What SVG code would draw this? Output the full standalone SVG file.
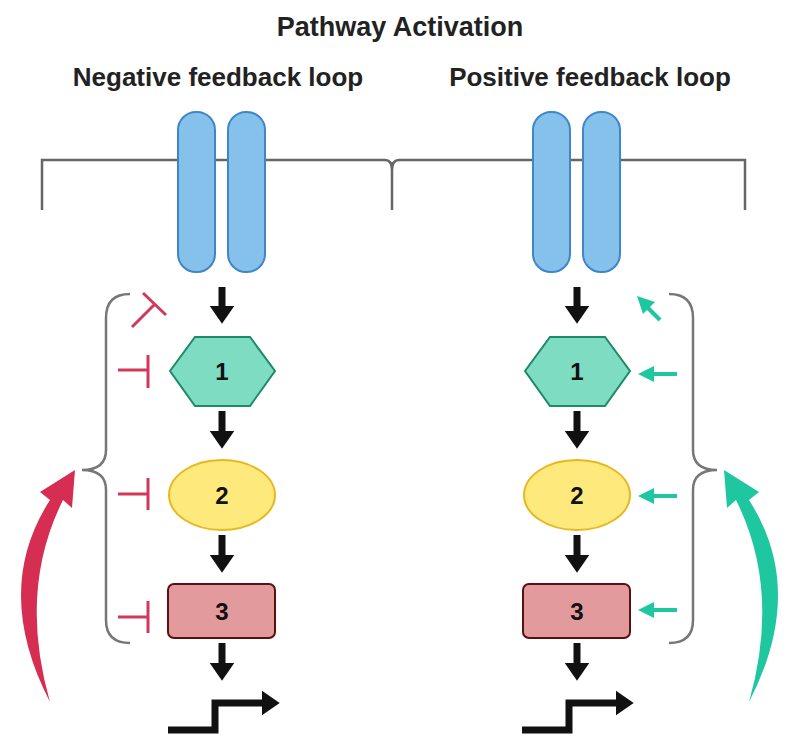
<svg xmlns="http://www.w3.org/2000/svg" width="800" height="749" viewBox="0 0 800 749">
<style>
.t{font-family:"Liberation Sans",Arial,sans-serif;font-weight:bold;fill:#222;text-anchor:middle}
.rec{fill:#86c1ec;stroke:#3f86c8;stroke-width:2}
.mem{fill:none;stroke:#666;stroke-width:2.5}
.blk{stroke:#111;stroke-width:7;fill:none}
.inh{stroke:#d0395a;stroke-width:3;fill:none}
.act{stroke:#1fc7a0;stroke-width:4;fill:none}
.gh{fill:#1fc7a0}
.br{fill:none;stroke:#777;stroke-width:2.5}
.n{font-family:"Liberation Sans",Arial,sans-serif;font-weight:bold;font-size:24px;fill:#111;text-anchor:middle}
</style>
<defs>
<marker id="ab" markerWidth="4" markerHeight="4" refX="1.5" refY="2" orient="auto" markerUnits="strokeWidth"><path d="M0,0.2 L2.6,2 L0,3.8Z" fill="#111"/></marker>
</defs>
<text class="t" x="400" y="36" font-size="27">Pathway Activation</text>
<text class="t" x="218" y="86" font-size="26">Negative feedback loop</text>
<text class="t" x="590" y="86" font-size="26">Positive feedback loop</text>
<g id="membrane">
<path class="mem" d="M42,210 V160 H385 Q392,160 392,170 Q392,160 399,160 H745 V210"/>
<path class="mem" d="M392,170 V210"/>
</g>
<g id="receptor-left"><rect class="rec" x="178" y="112" width="37" height="160" rx="18"/><rect class="rec" x="228" y="112" width="37" height="160" rx="18"/></g>
<g id="receptor-right"><rect class="rec" x="533" y="112" width="37" height="160" rx="18"/><rect class="rec" x="583" y="112" width="37" height="160" rx="18"/></g>
<g id="node1-left"><polygon points="170,371 195,337 250,337 275,371 250,406 195,406" fill="#7ddcc2" stroke="#1c8a6a" stroke-width="2"/><text class="n" x="222" y="380">1</text></g>
<g id="node2-left"><ellipse cx="222" cy="495" rx="53" ry="35" fill="#fde97c" stroke="#e8b820" stroke-width="2"/><text class="n" x="222" y="504">2</text></g>
<g id="node3-left"><rect x="168" y="584" width="107" height="54" rx="6" fill="#e29a9c" stroke="#5a1010" stroke-width="2"/><text class="n" x="222" y="620">3</text></g>
<g id="node1-right"><polygon points="525,371 550,337 605,337 630,371 605,406 550,406" fill="#7ddcc2" stroke="#1c8a6a" stroke-width="2"/><text class="n" x="577" y="380">1</text></g>
<g id="node2-right"><ellipse cx="577" cy="495" rx="53" ry="35" fill="#fde97c" stroke="#e8b820" stroke-width="2"/><text class="n" x="577" y="504">2</text></g>
<g id="node3-right"><rect x="523" y="584" width="107" height="54" rx="6" fill="#e29a9c" stroke="#5a1010" stroke-width="2"/><text class="n" x="577" y="620">3</text></g>
<g id="connectors">
<g class="blk" marker-end="url(#ab)">
<path d="M222,287 V316"/><path d="M222,411 V441"/><path d="M222,535 V565"/><path d="M222,643 V673"/>
<path d="M577,287 V316"/><path d="M577,411 V441"/><path d="M577,535 V565"/><path d="M577,643 V673"/>
<path d="M168,730 H215 V703 H272"/><path d="M522,730 H569 V703 H626"/>
</g>
<g class="inh">
<path d="M118,370 H148 M148,355 V388"/><path d="M118,494 H148 M148,478 V510"/><path d="M118,617 H148 M148,601 V633"/>
<path d="M132,327 L155,304 M143,293 L166,315"/>
</g>
<g class="act">
<path d="M677,374 H652"/><path d="M677,496 H652"/><path d="M677,610 H652"/><path d="M660,320 L648,308"/>
</g>
<g class="gh">
<polygon points="638,374 654,366 654,382"/><polygon points="638,496 654,488 654,504"/><polygon points="638,610 654,602 654,618"/>
<polygon points="637,296 655,302 643,314"/>
</g>
<path class="br" d="M130,294 Q106,294 106,318 V450 Q106,470 82,470 Q106,470 106,490 V620 Q106,643 130,643"/>
<path class="br" d="M669,294 Q693,294 693,318 V450 Q693,470 717,470 Q693,470 693,490 V620 Q693,643 669,643"/>
<path d="M50,702 Q-8,590 50,500 L40,492 L75,470 L72,508 L63,500 Q18,590 50,702Z" fill="#d52e52"/>
<path d="M749,702 Q807,590 749,500 L759,492 L724,470 L727,508 L736,500 Q781,590 749,702Z" fill="#1fc7a0"/>
</g>
</svg>
